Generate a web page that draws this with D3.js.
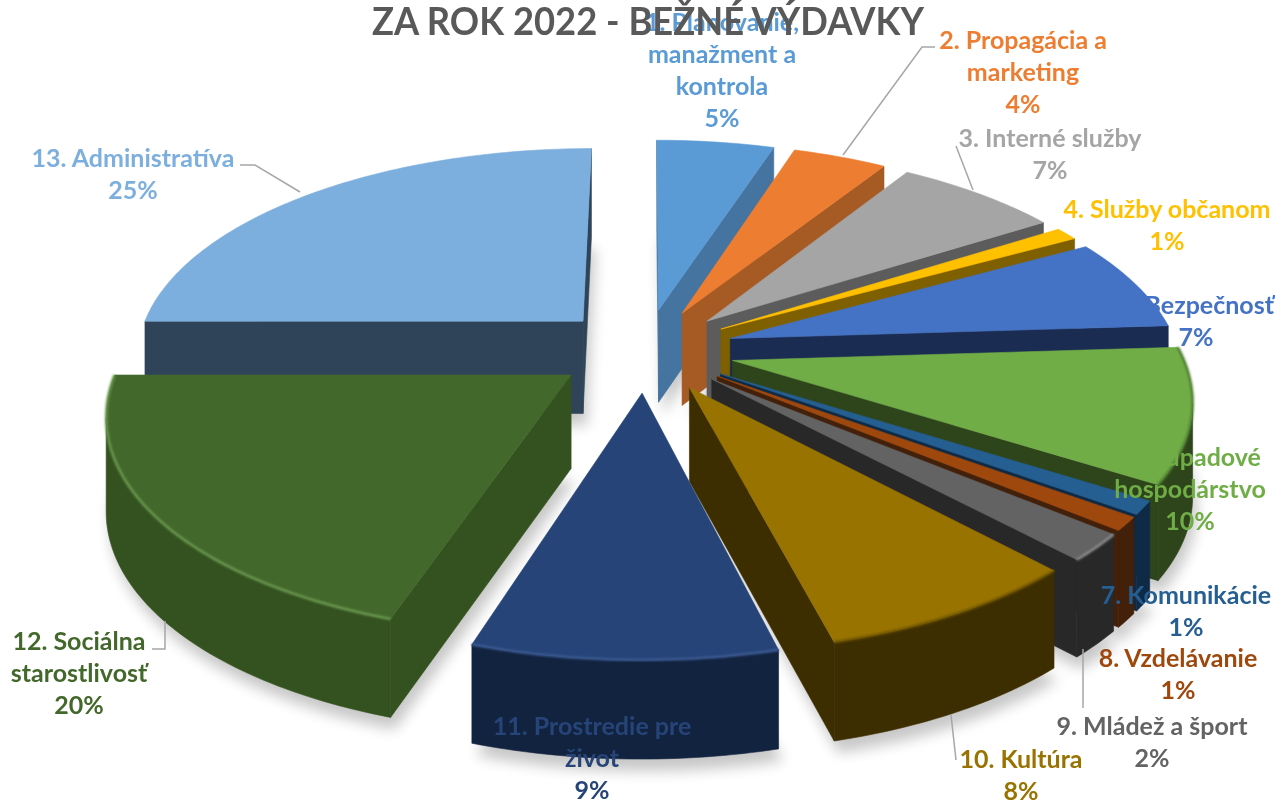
<!DOCTYPE html>
<html><head><meta charset="utf-8">
<script src="https://cdn.jsdelivr.net/npm/d3@7/dist/d3.min.js"></script>
<style>html,body{margin:0;padding:0;background:#fff}svg{display:block}text{font-family:Lato,"Open Sans",sans-serif;font-weight:700}</style>
</head><body><svg id="c" width="1275" height="801"></svg>
<script>
const title = "ZA ROK 2022 - BEŽNÉ VÝDAVKY";
const labelLines = [
 ["1. Plánovanie,","manažment a","kontrola"],["2. Propagácia a","marketing"],["3. Interné služby"],["4. Služby občanom"],
 ["5. Bezpečnosť"],["6. Odpadové","hospodárstvo"],["7. Komunikácie"],["8. Vzdelávanie"],["9. Mládež a šport"],
 ["10. Kultúra"],["11. Prostredie pre","život"],["12. Sociálna","starostlivosť"],["13. Administratíva"]];
const values = [5,4,7,1,7,10,1,1,2,8,9,20,25];
const topColors = ["#5B9BD5","#ED7D31","#A5A5A5","#FFC000","#4472C4","#70AD47","#255E91","#9E480E","#636363","#997300","#264478","#43682B","#7CAFDD"];
const wallColors = ["#44749F","#A65A24","#5C5C5C","#7F6000","#1A2C52","#2E451C","#0F2A45","#42200A","#282828","#3D2E00","#12233F","#34521F","#2F4459"];
const rimColors = ["none","none","none","none","none","#4F7D31","none","none","#8a8a8a","#6B5200","#3A5A92","#6A9A50","none"];
// label layout: centre x and centre y of first line
const labelX = [722,1023,1050,1167,1196,1190,1186,1178,1152,1021,592,79,133];
const labelY = [22,40,138,209,305,457,595,658,726,759,726,641,158];
const leaders = [[[843,155],[922,47],[935,47]],[[973,190],[956,146]],[[1083,649],[1083,708]],[[951,715],[956,760]],
 [[165,621],[165,649],[152,649]],[[240,165],[255,165],[300,192]]];

const Cx=645, Cy=350, Rx=448, Ry=208.7, k=0.16, explode=0.2, H=93;
const svg=d3.select("#c");
const defs=svg.append("defs");
defs.append("filter").attr("id","sh").attr("x","-20%").attr("y","-20%").attr("width","140%").attr("height","140%")
  .append("feGaussianBlur").attr("stdDeviation",7);
defs.append("filter").attr("id","rim").attr("x","-10%").attr("y","-10%").attr("width","120%").attr("height","120%")
  .append("feGaussianBlur").attr("stdDeviation",1.1);

const xs=d3.scaleLinear().domain([-1,1]).range([Cx-Rx,Cx+Rx]);
const ys=d3.scaleLinear().domain([-1,1]).range([Cy-Ry,Cy+Ry]);
function proj(X,Y,z){
  const s=1/(1-k*Y);
  return [Cx+(xs(X)-Cx)*s, Cy+(ys(Y)-Cy)*s + z*H*Math.pow(s,0.3)];
}
const line=d3.line();
const arcs=d3.pie().sort(null)(values).map((a,i)=>{
  const b=(a.startAngle+a.endAngle)/2;
  const ox=explode*Math.sin(b), oy=-explode*Math.cos(b);
  const n=Math.max(2,Math.ceil((a.endAngle-a.startAngle)/(Math.PI/180)));
  const angles=d3.range(n+1).map(j=>a.startAngle+(a.endAngle-a.startAngle)*j/n);
  return {i,ox,oy,angles,depth:oy,
    apexT:proj(ox,oy,0),apexB:proj(ox,oy,1),
    rimT:angles.map(t=>proj(ox+Math.sin(t),oy-Math.cos(t),0)),
    rimB:angles.map(t=>proj(ox+Math.sin(t),oy-Math.cos(t),1))};
});
// shadow
const shadow=svg.append("g").attr("filter","url(#sh)").attr("opacity",0.22);
arcs.forEach(d=>{
  shadow.append("path").attr("d",line([d.apexB,...d.rimB])+"Z").attr("fill","#000").attr("transform","translate(4,12)");
});
// slices, back to front
const g=svg.append("g");
arcs.slice().sort((a,b)=>d3.ascending(a.depth,b.depth)).forEach(d=>{
  const w=wallColors[d.i], t=topColors[d.i];
  const sg=g.append("g");
  const face=(pts,c)=>sg.append("path").attr("d",line(pts)+"Z").attr("fill",c).attr("stroke",c).attr("stroke-width",0.6);
  const last=d.rimT.length-1;
  const startWall=[d.apexT,d.rimT[0],d.rimB[0],d.apexB];
  const endWall=[d.apexT,d.rimT[last],d.rimB[last],d.apexB];
  if(d3.polygonArea(startWall)>0) face(startWall,w);
  if(d3.polygonArea(endWall)<0) face(endWall,w);
  // outer wall: merge the camera-facing segments into continuous runs
  let run=null;
  const flush=()=>{ if(run){ face([...d.rimT.slice(run[0],run[1]+1),...d.rimB.slice(run[0],run[1]+1).reverse()],w); run=null; } };
  for(let j=0;j<last;j++){
    const q=[d.rimT[j],d.rimT[j+1],d.rimB[j+1],d.rimB[j]];
    if(d3.polygonArea(q)>0){ if(run) run[1]=j+1; else run=[j,j+1]; } else flush();
  }
  flush();
  face([d.apexT,...d.rimT],t);
  if(rimColors[d.i]!=="none"){
    sg.append("path").attr("d",line(d.rimT)).attr("fill","none").attr("stroke",rimColors[d.i])
      .attr("stroke-width",2.5).attr("filter","url(#rim)");
  }
});
// leader lines
svg.append("g").selectAll("path").data(leaders).join("path")
  .attr("d",d=>line(d)).attr("fill","none").attr("stroke","#A6A6A6").attr("stroke-width",1.5);
// labels
const lh=32.3;
const lab=svg.append("g").attr("text-anchor","middle").style("font-size","25px");
labelLines.forEach((lines,i)=>{
  [...lines,values[i]+"%"].forEach((s,j)=>{
    lab.append("text").attr("x",labelX[i]).attr("y",labelY[i]+j*lh).attr("dy","0.34em").attr("fill",topColors[i]).text(s);
  });
});
svg.append("text").attr("x",648).attr("y",35).attr("text-anchor","middle").attr("fill","#595959")
  .attr("textLength",552).attr("lengthAdjust","spacingAndGlyphs").style("font-size","39px").text(title);
</script></body></html>
